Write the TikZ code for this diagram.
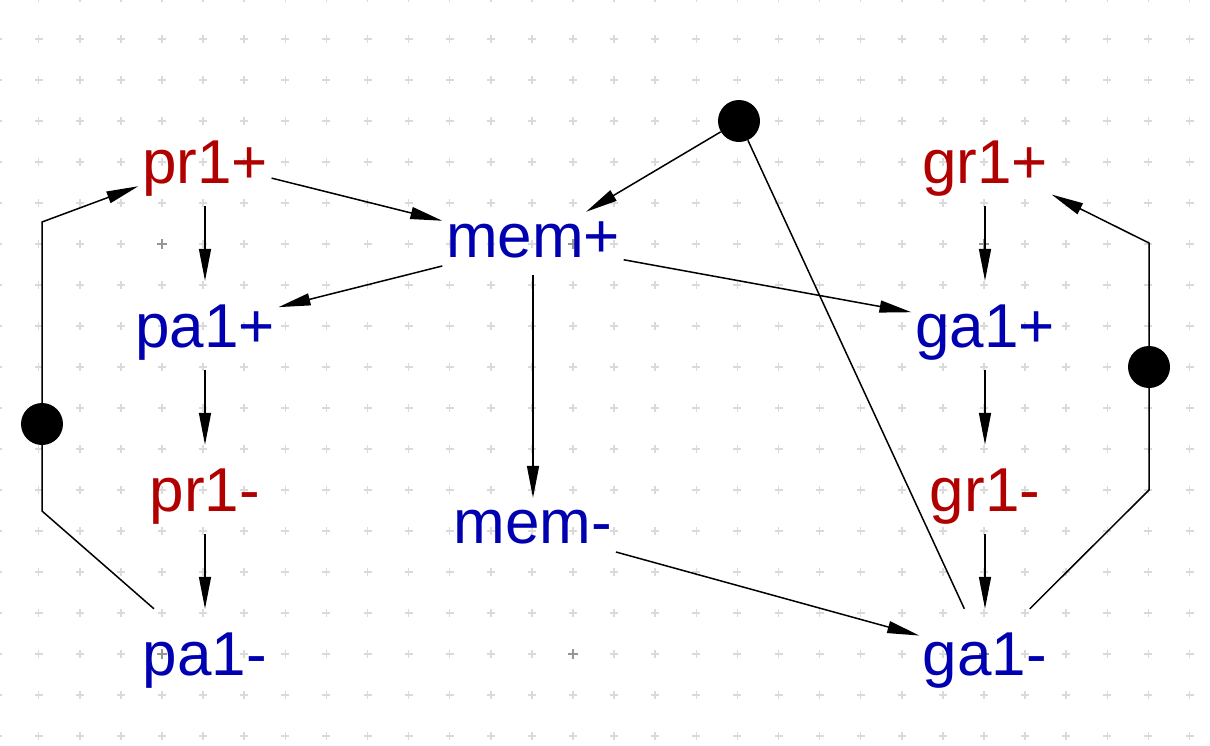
\documentclass[tikz,border=0pt]{standalone}
\usepackage{fontspec}
\setmainfont{Liberation Sans}
\usetikzlibrary{arrows.meta}
\definecolor{sigred}{RGB}{176,0,0}
\definecolor{sigblue}{RGB}{0,0,176}
\definecolor{gridlight}{RGB}{218,218,218}
\definecolor{griddark}{RGB}{150,150,150}
\tikzset{
  lbl/.style={font=\fontsize{62}{70}\selectfont, inner xsep=3.5pt, inner ysep=0pt, anchor=base},
  tall/.style={lbl, text height=66pt, text depth=23pt},
  low/.style={lbl, text height=45pt, text depth=17.5pt},
  inp/.style={text=sigred},
  outp/.style={text=sigblue},
  arc/.style={line width=1.5pt, -{Triangle[length=32pt,width=12pt]}},
  plainarc/.style={line width=1.5pt},
  place/.style={circle, fill=black, minimum size=42pt, inner sep=0pt},
  gridmark/.style={draw=gridlight, line width=1.5pt},
  gridmajor/.style={draw=griddark, line width=1.5pt}
}
\begin{document}
\begin{tikzpicture}[x=1pt,y=-1pt]
\useasboundingbox (0,0) rectangle (1210,745);
% grid
\foreach \i in {0,...,29}{
  \foreach \j in {0,...,18}{
    \path[gridmark] ({-2.4+41.1*\i},{-2+41*\j}) +(-4,0) -- +(4,0) +(0,-4) -- +(0,4);
  }
}
\foreach \i in {4,14,24}{
  \foreach \j in {6,16}{
    \path[gridmajor] ({-2.4+41.1*\i},{-2+41*\j}) +(-5,0) -- +(5,0) +(0,-5) -- +(0,5);
  }
}
% labels
\node[tall,inp]  (pr1p) at (205,183) {pr1+};
\node[tall,outp] (pa1p) at (205,347) {pa1+};
\node[tall,inp]  (pr1m) at (205,511) {pr1-};
\node[tall,outp] (pa1m) at (205,675) {pa1-};
\node[tall,inp]  (gr1p) at (985,183) {gr1+};
\node[tall,outp] (ga1p) at (985,347) {ga1+};
\node[tall,inp]  (gr1m) at (985,511) {gr1-};
\node[tall,outp] (ga1m) at (985,675) {ga1-};
\node[low,outp]  (memp) at (533,257) {mem+};
\node[low,outp]  (memm) at (533,543) {mem-};
% places
\node[place] (pT) at (739,121) {};
\node[place] (pL) at (42,424) {};
\node[place] (pR) at (1149,367) {};
\coordinate (cL1) at (42,511);
\coordinate (cL2) at (42,222);
\coordinate (cR1) at (1149,490);
\coordinate (cR2) at (1149,243);
% arcs
\draw[arc] (pr1p) -- (pa1p);
\draw[arc] (pa1p) -- (pr1m);
\draw[arc] (pr1m) -- (pa1m);
\draw[arc] (gr1p) -- (ga1p);
\draw[arc] (ga1p) -- (gr1m);
\draw[arc] (gr1m) -- (ga1m);
\draw[arc] (pr1p) -- (memp);
\draw[arc] (memp) -- (pa1p);
\draw[arc] (memp) -- (ga1p);
\draw[arc] (memp) -- (memm);
\draw[arc] (memm) -- (ga1m);
\draw[arc] (pT) -- (memp);
\draw[plainarc] (pT) -- (ga1m);
\draw[plainarc] (pa1m) -- (cL1) -- (pL);
\draw[arc] (pL) -- (cL2) -- (pr1p);
\draw[plainarc] (ga1m) -- (cR1) -- (pR);
\draw[arc] (pR) -- (cR2) -- (gr1p);
\end{tikzpicture}
\end{document}
